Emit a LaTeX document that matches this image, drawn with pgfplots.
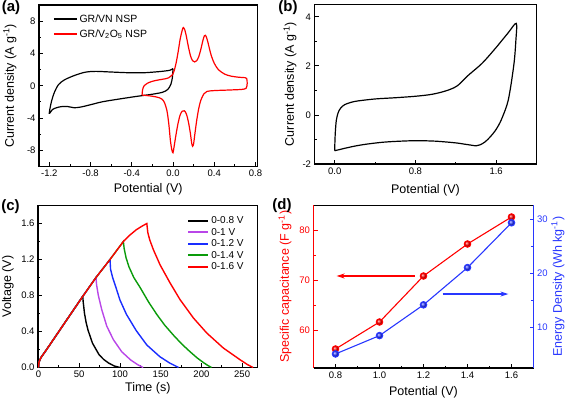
\documentclass[border=0pt]{standalone}
\usepackage{fontspec}
\setmainfont{Liberation Sans}
\usepackage{pgfplots}
\pgfplotsset{compat=1.18}
\usetikzlibrary{arrows.meta}
\definecolor{cred}{RGB}{255,0,0}
\definecolor{cviolet}{RGB}{185,70,232}
\definecolor{cblue}{RGB}{25,45,255}
\definecolor{cgreen}{RGB}{10,155,10}
\definecolor{dblue}{RGB}{40,55,255}
\pgfplotsset{
  base/.style={scale only axis, anchor=south west, tick pos=left, tick align=inside,
    minor tick num=1, major tick length=4pt, minor tick length=2.2pt,
    axis line style={line width=1.1pt},
    tick style={line width=0.8pt, black},
    tick label style={font=\fontsize{9.5}{11}\selectfont},
    label style={font=\fontsize{12.5}{15}\selectfont},
    /pgf/number format/assume math mode=true},
  onedec/.style={/pgf/number format/.cd, fixed, fixed zerofill, precision=1},
}
\begin{document}
\begin{tikzpicture}
\path[use as bounding box] (0pt,0pt) rectangle (567pt,401pt);

% ---------------- (a)
\begin{axis}[base, at={(39pt,234.5pt)}, width=218.5pt, height=161.5pt,
  xmin=-1.3, xmax=0.82, ymin=-10, ymax=10,
  xtick={-1.2,-0.8,-0.4,0,0.4,0.8}, ytick={-8,-4,0,4,8},
  xticklabel style={onedec},
  xlabel={Potential (V)}, ylabel={Current density (A g\textsuperscript{-1})},
  xlabel style={at={(axis description cs:0.5,-0.138)}, anchor=center},
  ylabel style={at={(axis description cs:-0.133,0.5)}, anchor=center},
  legend cell align=left,
  legend style={draw=none, fill=none, at={(axis description cs:0.063,0.955)}, anchor=north west,
    font=\fontsize{10.5}{12.5}\selectfont, row sep=2pt, inner sep=0pt},
  legend image code/.code={\draw[#1, line width=1.6pt] (0pt,0pt) -- (23pt,0pt);},
]
\addplot[black, line width=1.2pt, smooth, tension=0.5] coordinates {
(0.0,2.13) (-0.03,1.92) (-0.11,1.78) (-0.2,1.68) (-0.3,1.6) (-0.45,1.62) (-0.6,1.7)
(-0.75,1.78) (-0.85,1.68) (-0.95,1.3) (-1.05,0.75) (-1.11,0.15) (-1.15,-0.8) (-1.18,-2.0)
(-1.2,-3.4) (-1.17,-2.95) (-1.13,-2.72) (-1.08,-2.58) (-1.02,-2.58) (-0.96,-2.72) (-0.9,-2.65)
(-0.8,-2.35) (-0.69,-2.0) (-0.55,-1.7) (-0.37,-1.35) (-0.2,-1.05) (-0.1,-0.8) (-0.05,-0.45)
(-0.02,0.2) (-0.005,1.1) (0.0,2.13)};
\addlegendentry{GR/VN NSP}
\addplot[cred, line width=1.2pt, smooth, tension=0.5] coordinates {
(-0.3,-1.15) (-0.295,-0.5) (-0.28,0.0) (-0.25,0.3) (-0.2,0.55) (-0.14,0.72) (-0.08,0.85)
(-0.04,1.0) (-0.01,1.3) (0.01,1.8) (0.03,2.8) (0.05,4.2) (0.07,5.8) (0.09,6.9) (0.1,7.2)
(0.115,6.9) (0.13,6.1) (0.15,4.8) (0.17,3.7) (0.19,3.1) (0.21,2.95) (0.23,3.1) (0.25,3.6)
(0.27,4.5) (0.29,5.6) (0.305,6.2) (0.315,6.25) (0.33,5.8) (0.35,4.8) (0.37,3.8) (0.4,2.8)
(0.44,2.0) (0.5,1.45) (0.56,1.2) (0.64,1.05) (0.7,1.0) (0.715,0.9) (0.72,0.3) (0.71,-0.3)
(0.67,-0.45) (0.6,-0.5) (0.5,-0.55) (0.4,-0.6) (0.33,-0.7) (0.3,-1.0) (0.27,-1.8) (0.25,-2.8)
(0.23,-4.3) (0.21,-6.2) (0.2,-7.2) (0.19,-7.5) (0.18,-7.0) (0.17,-6.0) (0.15,-4.5) (0.13,-3.5)
(0.11,-3.1) (0.09,-3.15) (0.07,-3.6) (0.05,-4.6) (0.03,-6.0) (0.01,-7.6) (0.0,-8.3)
(-0.01,-8.0) (-0.025,-6.8) (-0.04,-4.8) (-0.06,-3.0) (-0.09,-1.9) (-0.13,-1.5) (-0.2,-1.3)
(-0.3,-1.15)};
\addlegendentry{GR/V\textsubscript{2}O\textsubscript{5} NSP}
\end{axis}

% ---------------- (b)
\begin{axis}[base, at={(314.5pt,237pt)}, width=222pt, height=159.5pt,
  xmin=-0.2, xmax=2.0, ymin=-2, ymax=4.5,
  xtick={0,0.8,1.6}, ytick={-2,0,2,4},
  xticklabel style={onedec},
  xlabel={Potential (V)}, ylabel={Current density (A g\textsuperscript{-1})},
  xlabel style={at={(axis description cs:0.5,-0.162)}, anchor=center},
  ylabel style={at={(axis description cs:-0.11,0.5)}, anchor=center},
]
\addplot[black, line width=1.2pt, smooth, tension=0.5] coordinates {
(0,-1.46) (0.003,-1.0) (0.008,-0.6) (0.017,-0.2) (0.035,0.1) (0.06,0.28) (0.1,0.42)
(0.2,0.55) (0.4,0.65) (0.6,0.7) (0.8,0.76) (0.95,0.83) (1.06,0.93) (1.15,1.05) (1.22,1.2)
(1.32,1.6) (1.46,2.1) (1.59,2.7) (1.72,3.35) (1.8,3.73) (1.795,3.0) (1.78,2.2) (1.75,1.3)
(1.72,0.6) (1.69,0.2) (1.64,-0.3) (1.59,-0.65) (1.54,-0.9) (1.49,-1.1) (1.44,-1.22)
(1.4,-1.26) (1.35,-1.23) (1.3,-1.2) (1.2,-1.14) (1.0,-1.07) (0.8,-1.05) (0.6,-1.08)
(0.46,-1.12) (0.3,-1.2) (0.2,-1.27) (0.1,-1.36) (0.04,-1.42) (0,-1.46)};
\end{axis}

% ---------------- (c)
\begin{axis}[base, at={(38pt,33.5pt)}, width=219.6pt, height=162pt,
  xmin=-0.6, xmax=269, ymin=0, ymax=1.8,
  xtick={0,50,100,150,200,250}, ytick={0,0.4,0.8,1.2,1.6},
  yticklabel style={onedec},
  xlabel={Time (s)}, ylabel={Voltage (V)},
  xlabel style={at={(axis description cs:0.5,-0.127)}, anchor=center},
  ylabel style={at={(axis description cs:-0.137,0.5)}, anchor=center},
  legend cell align=left,
  legend style={draw=none, fill=none, at={(axis description cs:0.679,0.944)}, anchor=north west,
    font=\fontsize{10}{12}\selectfont, row sep=-1pt, inner sep=0pt},
  legend image code/.code={\draw[#1, line width=2pt] (0pt,0pt) -- (20pt,0pt);},
]
\addplot[black, line width=1.4pt] coordinates {
(0,0) (0.6,0.06) (3,0.11) (10,0.2) (25,0.4) (40,0.6) (54.3,0.79)
(55,0.72) (56.5,0.6) (58.5,0.5) (61,0.41) (66.3,0.27) (74.5,0.14) (80,0.09) (86,0.05) (93,0.017) (100,0)};
\addlegendentry{0-0.8 V}
\addplot[cviolet, line width=1.4pt] coordinates {
(0,0) (0.6,0.06) (3,0.11) (10,0.2) (25,0.4) (40,0.6) (54.3,0.79) (70.6,1.0)
(71.3,0.92) (73.5,0.8) (77.6,0.645) (83.8,0.46) (91.9,0.31) (102.2,0.175) (113,0.085) (122,0.03) (128.5,0)};
\addlegendentry{0-1 V}
\addplot[cblue, line width=1.4pt] coordinates {
(0,0) (0.6,0.06) (3,0.11) (10,0.2) (25,0.4) (40,0.6) (54.3,0.79) (70.6,1.0) (87.8,1.2)
(88.5,1.09) (91,1.0) (94,0.92) (100,0.75) (108,0.59) (120,0.41) (133,0.25) (149,0.12) (161,0.05) (172,0)};
\addlegendentry{0-1.2 V}
\addplot[cgreen, line width=1.4pt] coordinates {
(0,0) (0.6,0.06) (3,0.11) (10,0.2) (25,0.4) (40,0.6) (54.3,0.79) (70.6,1.0) (87.8,1.2) (104.2,1.4)
(105.2,1.32) (107.5,1.22) (111,1.12) (117,1.0) (124.7,0.89) (135,0.73) (145.2,0.59) (155,0.47)
(165.6,0.36) (176,0.26) (186.1,0.175) (195,0.105) (202.5,0.055) (208,0.022) (212.5,0)};
\addlegendentry{0-1.4 V}
\addplot[cred, line width=1.4pt] coordinates {
(0,0) (0.6,0.06) (3,0.11) (10,0.2) (25,0.4) (40,0.6) (54.3,0.79) (70.6,1.0) (87.8,1.2) (104.2,1.4)
(112,1.47) (120,1.53) (127,1.57) (133,1.6)
(134.2,1.5) (136.5,1.42) (141,1.31) (149.3,1.14) (161.5,0.94) (173.8,0.754) (190.2,0.55)
(206.6,0.383) (227,0.216) (247.5,0.086) (257,0.03) (263.5,0)};
\addlegendentry{0-1.6 V}
\end{axis}

% ---------------- (d) left axis
\begin{axis}[base, at={(313.5pt,33pt)}, width=220pt, height=162.5pt,
  xmin=0.7, xmax=1.7, ymin=52.5, ymax=85,
  xtick={0.8,1.0,1.2,1.4,1.6}, ytick={60,70,80},
  xticklabel style={onedec},
  separate axis lines, axis x line*=box, axis y line*=left,
  y axis line style={cred},
  every y tick/.append style={cred},
  yticklabel style={cred},
  xlabel={Potential (V)}, ylabel={Specific capacitance (F g\textsuperscript{-1})},
  xlabel style={at={(axis description cs:0.5,-0.15)}, anchor=center},
  ylabel style={cred, at={(axis description cs:-0.1295,0.5)}, anchor=center},
]
\addplot[cred, line width=1.1pt, mark=ball, mark size=3.2pt, mark options={ball color=cred}] coordinates {
(0.8,56.3) (1.0,61.7) (1.2,70.9) (1.4,77.3) (1.6,82.7)};
\draw[cred, line width=1.3pt, -{Stealth[length=8pt,width=5pt]}] (axis cs:1.16,70.9) -- (axis cs:0.805,70.9);
\end{axis}
% ---------------- (d) right axis
\begin{axis}[base, at={(313.5pt,33pt)}, width=220pt, height=162.5pt,
  xmin=0.7, xmax=1.7, ymin=2.4, ymax=32.5,
  xtick=\empty, ytick={10,20,30},
  separate axis lines, axis x line=none, axis y line*=right,
  ytick pos=right, yticklabel pos=right,
  y axis line style={dblue},
  every y tick/.append style={dblue},
  yticklabel style={dblue},
  ylabel={Energy Density (Wh kg\textsuperscript{-1})},
  ylabel style={dblue, at={(axis description cs:1.111,0.5)}, anchor=center},
]
\addplot[dblue, line width=1.1pt, mark=ball, mark size=3.2pt, mark options={ball color=dblue}] coordinates {
(0.8,5.0) (1.0,8.4) (1.2,14.1) (1.4,21.0) (1.6,29.3)};
\draw[dblue, line width=1.3pt, -{Stealth[length=8pt,width=5pt]}] (axis cs:1.287,16.1) -- (axis cs:1.586,16.1);
\end{axis}

% panel letters
\node[font=\bfseries\fontsize{15}{16}\selectfont] at (11pt,393.5pt) {(a)};
\node[font=\bfseries\fontsize{15}{16}\selectfont] at (288pt,393.5pt) {(b)};
\node[font=\bfseries\fontsize{15}{16}\selectfont] at (10.5pt,194.5pt) {(c)};
\node[font=\bfseries\fontsize{15}{16}\selectfont] at (282pt,195.5pt) {(d)};
\end{tikzpicture}
\end{document}
